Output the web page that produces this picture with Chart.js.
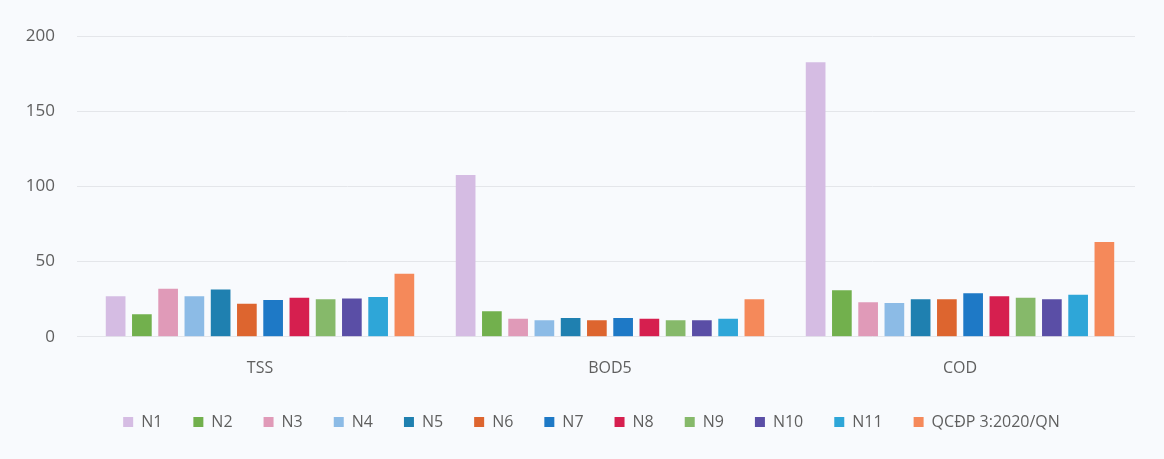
<!DOCTYPE html>
<html>
<head>
<meta charset="utf-8">
<script src="https://cdn.jsdelivr.net/npm/chart.js@4"></script>
<style>
  html, body { margin: 0; padding: 0; background: #f8fafd; }
  #wrap { width: 1164px; height: 459px; }
</style>
</head>
<body>
<div id="wrap"><canvas id="chart"></canvas></div>
<script>
const categories = ["TSS", "BOD5", "COD"];
const seriesNames = ["N1", "N2", "N3", "N4", "N5", "N6", "N7", "N8", "N9", "N10", "N11", "QCĐP 3:2020/QN"];
const n1 = [27, 107.5, 182.5];
const n2 = [15, 17, 31];
const n3 = [32, 12, 23];
const n4 = [27, 11, 22.5];
const n5 = [31.5, 12.5, 25];
const n6 = [22, 11, 25];
const n7 = [24.5, 12.5, 29];
const n8 = [26, 12, 27];
const n9 = [25, 11, 26];
const n10 = [25.5, 11, 25];
const n11 = [26.5, 12, 28];
const qcdp = [42, 25, 63];
const yTicks = [0, 50, 100, 150, 200];

const seriesValues = [n1, n2, n3, n4, n5, n6, n7, n8, n9, n10, n11, qcdp];
const colors = [
  "#d5bce3", "#72b04d", "#e09ab8", "#8cbbe6", "#1f80b0", "#dd652f",
  "#1e79c6", "#d61f4f", "#86b96a", "#5a4ea6", "#2ea6d8", "#f5895a"
];

// nudge the legend closer to the axis labels and a bit to the right
const legendShift = {
  id: "legendShift",
  afterLayout(chart) {
    chart.legend.top -= 9;
    chart.legend.bottom -= 9;
    chart.legend.left += 14;
    chart.legend.right += 14;
  },
};

const ctx = document.getElementById("chart").getContext("2d");
const myChart = new Chart(ctx, {
  type: "bar",
  data: {
    labels: categories,
    datasets: seriesNames.map((name, i) => ({
      label: name,
      data: seriesValues[i],
      backgroundColor: colors[i],
      borderWidth: 0,
      categoryPercentage: 0.9,
      barPercentage: 0.75,
    })),
  },
  options: {
    responsive: true,
    maintainAspectRatio: false,
    animation: false,
    layout: {
      padding: { top: 36, left: 20, right: 29, bottom: 10 },
    },
    plugins: {
      tooltip: { enabled: false },
      legend: {
        position: "bottom",
        labels: {
          boxWidth: 10,
          boxHeight: 10,
          padding: 31,
          color: "#5f5f5f",
          font: { family: "'Open Sans', sans-serif", size: 16 },
        },
      },
    },
    scales: {
      x: {
        grid: { display: false },
        border: { display: false },
        ticks: {
          color: "#5f5f5f",
          padding: 14,
          font: { family: "'Open Sans', sans-serif", size: 16 },
        },
      },
      y: {
        min: 0,
        max: 200,
        afterBuildTicks: (axis) => {
          axis.ticks = yTicks.map((v) => ({ value: v }));
        },
        afterFit: (axis) => {
          axis.width = 65;
        },
        grid: { color: "#e4e6ea", lineWidth: 1 },
        border: { display: false },
        ticks: {
          color: "#5f5f5f",
          padding: 22,
          font: { family: "'Open Sans', sans-serif", size: 17 },
        },
      },
    },
  },
  plugins: [legendShift],
});
</script>
</body>
</html>
